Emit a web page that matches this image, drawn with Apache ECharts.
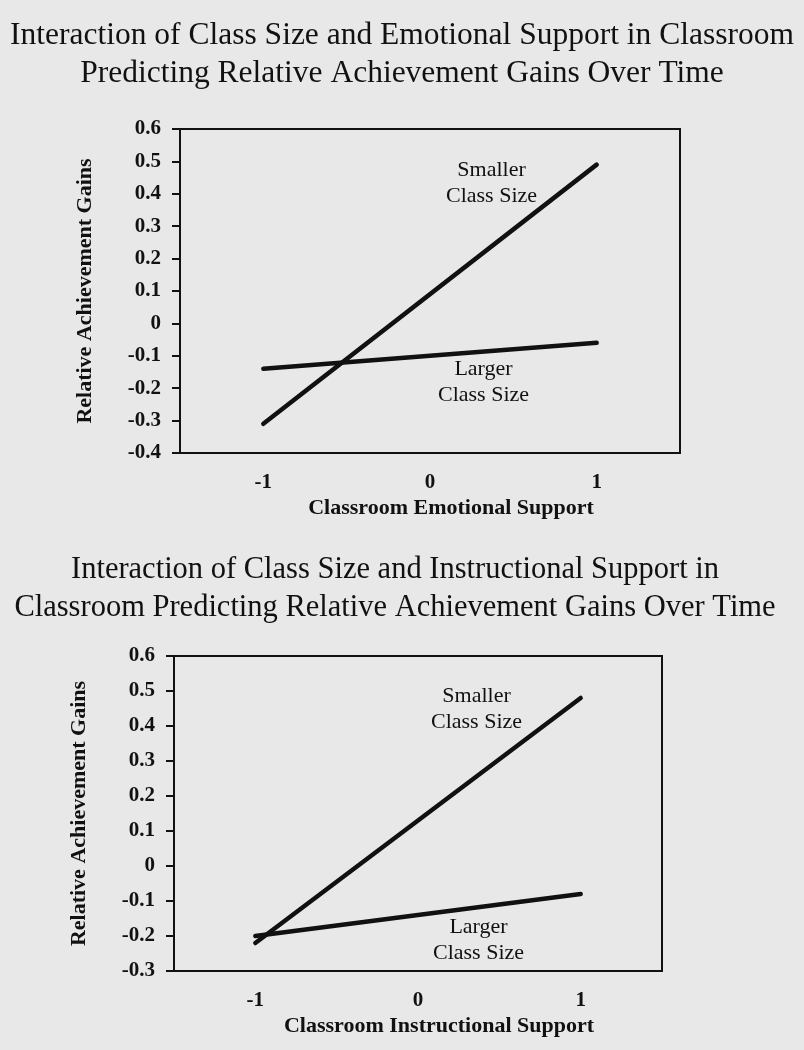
<!DOCTYPE html>
<html>
<head>
<meta charset="utf-8">
<script src="https://cdn.jsdelivr.net/npm/echarts@6/dist/echarts.min.js"></script>
<style>
  html, body { margin: 0; padding: 0; background: #e8e8e8; }
  #chart { width: 804px; height: 1050px; }
</style>
</head>
<body>
<div id="chart"></div>
<script>
// x positions (standardised predictor), only -1 and 1 were plotted
const xCats = ['-1', '0', '1']

// top panel: emotional support
const emoSmaller = [-0.31, null, 0.49]
const emoLarger = [-0.14, null, -0.06]

// bottom panel: instructional support
const instSmaller = [-0.22, null, 0.48]
const instLarger = [-0.20, null, -0.08]

const serif = "'Liberation Serif', 'Times New Roman', serif"
const ink = '#111'

function yAxisFor(gridIndex, min) {
  return {
    gridIndex: gridIndex,
    type: 'value',
    min: min,
    max: 0.6,
    interval: 0.1,
    name: 'Relative Achievement Gains',
    nameLocation: 'middle',
    nameGap: 84,
    nameTextStyle: { fontFamily: serif, fontWeight: 'bold', fontSize: 22, color: ink },
    axisLine: { show: true, onZero: false, lineStyle: { color: ink, width: 2 } },
    axisTick: { show: true, length: 8, lineStyle: { color: ink, width: 2 } },
    axisLabel: { fontFamily: serif, fontWeight: 'bold', fontSize: 21, color: ink, margin: 19 },
    splitLine: { show: false }
  }
}

function xAxisFor(gridIndex, name) {
  return {
    gridIndex: gridIndex,
    type: 'category',
    data: xCats,
    boundaryGap: true,
    name: name,
    nameLocation: 'middle',
    nameGap: 44,
    nameTextStyle: { fontFamily: serif, fontWeight: 'bold', fontSize: 22, color: ink, padding: [0, 0, 0, 42] },
    axisLine: { show: true, onZero: false, lineStyle: { color: ink, width: 2 } },
    axisTick: { show: false },
    axisLabel: { fontFamily: serif, fontWeight: 'bold', fontSize: 21, color: ink, margin: 19 },
    splitLine: { show: false }
  }
}

function lineSeries(idx, data) {
  return {
    type: 'line',
    xAxisIndex: idx,
    yAxisIndex: idx,
    data: data,
    connectNulls: true,
    symbol: 'none',
    silent: true,
    lineStyle: { color: ink, width: 4.5, cap: 'round' }
  }
}

function note(x, y, text) {
  return {
    type: 'text',
    left: x,
    top: y,
    style: {
      text: text,
      font: '22px ' + serif,
      fill: ink,
      textAlign: 'center',
      lineHeight: 26
    }
  }
}

const chart = echarts.init(document.getElementById('chart'))

const option = {
  backgroundColor: '#e8e8e8',
  animation: false,
  title: [
    {
      text: 'Interaction of Class Size and Emotional Support in Classroom\nPredicting Relative Achievement Gains Over Time',
      left: 'center',
      top: 12,
      textStyle: { fontFamily: serif, fontWeight: 'normal', fontSize: 31.5, lineHeight: 38, color: ink }
    },
    {
      text: 'Interaction of Class Size and Instructional Support in\nClassroom Predicting Relative Achievement Gains Over Time',
      left: 390,
      top: 546,
      textAlign: 'center',
      textStyle: { fontFamily: serif, fontWeight: 'normal', fontSize: 30.5, lineHeight: 38, color: ink }
    }
  ],
  grid: [
    { left: 180, top: 129, width: 500, height: 324, show: true, borderColor: ink, borderWidth: 2, backgroundColor: 'transparent' },
    { left: 174, top: 656, width: 488, height: 315, show: true, borderColor: ink, borderWidth: 2, backgroundColor: 'transparent' }
  ],
  xAxis: [
    xAxisFor(0, 'Classroom Emotional Support'),
    xAxisFor(1, 'Classroom Instructional Support')
  ],
  yAxis: [
    yAxisFor(0, -0.4),
    yAxisFor(1, -0.3)
  ],
  series: [
    lineSeries(0, emoSmaller),
    lineSeries(0, emoLarger),
    lineSeries(1, instSmaller),
    lineSeries(1, instLarger)
  ],
  graphic: [
    note(446, 157, 'Smaller\nClass Size'),
    note(438, 356, 'Larger\nClass Size'),
    note(431, 683, 'Smaller\nClass Size'),
    note(433, 914, 'Larger\nClass Size')
  ]
}

chart.setOption(option)

window.addEventListener('resize', function () {
  chart.resize()
})
</script>
</body>
</html>
